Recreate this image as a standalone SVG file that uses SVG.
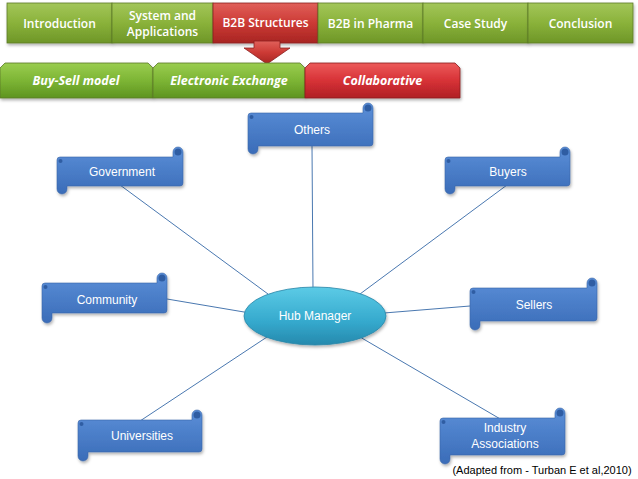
<svg xmlns="http://www.w3.org/2000/svg" width="638" height="479" viewBox="0 0 638 479">
<defs>
<linearGradient id="gTab" x1="0" y1="0" x2="0" y2="1">
<stop offset="0" stop-color="#a3c65a"/><stop offset="0.5" stop-color="#8ab23a"/><stop offset="1" stop-color="#6e9628"/>
</linearGradient>
<linearGradient id="rTab" x1="0" y1="0" x2="0" y2="1">
<stop offset="0" stop-color="#e0605a"/><stop offset="0.5" stop-color="#cc3a35"/><stop offset="1" stop-color="#a82522"/>
</linearGradient>
<linearGradient id="gTab2" x1="0" y1="0" x2="0" y2="1">
<stop offset="0" stop-color="#9acd4f"/><stop offset="0.5" stop-color="#7db535"/><stop offset="1" stop-color="#5e9420"/>
</linearGradient>
<linearGradient id="rTab2" x1="0" y1="0" x2="0" y2="1">
<stop offset="0" stop-color="#ec5a5a"/><stop offset="0.5" stop-color="#d73237"/><stop offset="1" stop-color="#b01f24"/>
</linearGradient>
<linearGradient id="scroll" x1="0" y1="0" x2="0" y2="1">
<stop offset="0" stop-color="#5b8fd8"/><stop offset="1" stop-color="#3a6cb8"/>
</linearGradient>
<linearGradient id="hub" x1="0" y1="0" x2="0" y2="1">
<stop offset="0" stop-color="#5ccbe6"/><stop offset="0.6" stop-color="#35a9cd"/><stop offset="1" stop-color="#2589ad"/>
</linearGradient>
<filter id="sh" x="-10%" y="-20%" width="130%" height="150%">
<feDropShadow dx="1" dy="2" stdDeviation="1.5" flood-color="#000" flood-opacity="0.3"/>
</filter>
</defs>
<style>
.tab{stroke:#5c7a2a;stroke-width:0.8;filter:url(#sh)}
.tabr{stroke:#8a2020;stroke-width:0.8;filter:url(#sh)}
.tt{font-family:"Open Sans","Liberation Sans",sans-serif;font-size:12px;fill:#fff;text-anchor:middle;font-weight:600}
.t2{font-family:"Open Sans","Liberation Sans",sans-serif;font-size:12.5px;fill:#fff;text-anchor:middle;font-weight:700;font-style:italic}
.sc{fill:url(#scroll);stroke:#3a66a8;stroke-width:0.6;filter:url(#sh)}
.curl{fill:#2f5da3}
.st{font-family:"Liberation Sans","Noto Sans",sans-serif;font-size:12px;fill:#fff;text-anchor:middle}
.con{stroke:#4a78b0;stroke-width:1;fill:none}
</style>

<g id="top-tabs">
<rect class="tab" x="7" y="3" width="105" height="40" fill="url(#gTab)"/>
<text class="tt" x="59.5" y="27.5">Introduction</text>
<rect class="tab" x="112" y="3" width="101" height="40" fill="url(#gTab)"/>
<text class="tt" x="162.5" y="20">System and</text>
<text class="tt" x="162.5" y="36">Applications</text>
<rect class="tabr" x="213" y="3" width="105" height="40" fill="url(#rTab)"/>
<text class="tt" x="265.5" y="27">B2B Structures</text>
<rect class="tab" x="318" y="3" width="105" height="40" fill="url(#gTab)"/>
<text class="tt" x="370.5" y="27.5">B2B in Pharma</text>
<rect class="tab" x="423" y="3" width="105" height="40" fill="url(#gTab)"/>
<text class="tt" x="475.5" y="27.5">Case Study</text>
<rect class="tab" x="528" y="3" width="105" height="40" fill="url(#gTab)"/>
<text class="tt" x="580.5" y="27.5">Conclusion</text>
</g>

<g id="down-arrow">
<path d="M254 41 H280 V48 H290 L267 64 L244 48 H254 Z" fill="url(#rTab)" stroke="#8a2020" stroke-width="0.8"/>
</g>

<g id="sub-tabs">
<path class="tab" d="M0 68 L5 63 H148 L153 68 V98 H0 Z" fill="url(#gTab2)"/>
<text class="t2" x="76" y="85">Buy-Sell model</text>
<path class="tab" d="M153 68 L158 63 H300 L305 68 V98 H153 Z" fill="url(#gTab2)"/>
<text class="t2" x="229" y="85">Electronic Exchange</text>
<path class="tabr" d="M305 68 L310 63 H455 L460 68 V98 H305 Z" fill="url(#rTab2)"/>
<text class="t2" x="382.5" y="85">Collaborative</text>
</g>

<g id="connectors">
<line class="con" x1="312" y1="146" x2="313" y2="290"/>
<line class="con" x1="120" y1="185" x2="268" y2="294"/>
<line class="con" x1="507" y1="185" x2="360" y2="294"/>
<line class="con" x1="167" y1="299" x2="250" y2="313"/>
<line class="con" x1="470" y1="306" x2="384" y2="313"/>
<line class="con" x1="140" y1="421" x2="267" y2="337"/>
<line class="con" x1="502" y1="420" x2="360" y2="337"/>
</g>

<g id="hub-manager">
<ellipse cx="315" cy="316" rx="71" ry="29" fill="url(#hub)" stroke="#2a86a8" stroke-width="0.8" filter="url(#sh)"/>
<text class="st" x="315" y="320">Hub Manager</text>
</g>

<g id="others">
<path class="sc" d="M248 116 Q248 113 251 113 H363 V108 A5 5 0 0 1 373 108 V143 Q373 146 370 146 H258 V149 A5 5 0 0 1 248 149 Z"/>
<circle class="curl" cx="368" cy="108" r="3.5"/>
<circle class="curl" cx="251.5" cy="117" r="2"/>
<text class="st" x="312" y="134">Others</text>
</g>

<g id="government">
<path class="sc" d="M57 160 Q57 157 60 157 H173 V152 A5 5 0 0 1 183 152 V183 Q183 186 180 186 H67 V189 A5 5 0 0 1 57 189 Z"/>
<circle class="curl" cx="178" cy="152" r="3.5"/>
<circle class="curl" cx="60.5" cy="161" r="2"/>
<text class="st" x="122" y="176">Government</text>
</g>

<g id="buyers">
<path class="sc" d="M445 160 Q445 157 448 157 H560 V152 A5 5 0 0 1 570 152 V183 Q570 186 567 186 H455 V189 A5 5 0 0 1 445 189 Z"/>
<circle class="curl" cx="565" cy="152" r="3.5"/>
<circle class="curl" cx="448.5" cy="161" r="2"/>
<text class="st" x="508" y="176">Buyers</text>
</g>

<g id="community">
<path class="sc" d="M42 286 Q42 283 45 283 H157 V278 A5 5 0 0 1 167 278 V310 Q167 313 164 313 H52 V318 A5 5 0 0 1 42 318 Z"/>
<circle class="curl" cx="162" cy="278" r="3.5"/>
<circle class="curl" cx="45.5" cy="287" r="2"/>
<text class="st" x="107" y="304">Community</text>
</g>

<g id="sellers">
<path class="sc" d="M470 291 Q470 288 473 288 H587 V283 A5 5 0 0 1 597 283 V318 Q597 321 594 321 H480 V325 A5 5 0 0 1 470 325 Z"/>
<circle class="curl" cx="592" cy="283" r="3.5"/>
<circle class="curl" cx="473.5" cy="292" r="2"/>
<text class="st" x="534" y="309">Sellers</text>
</g>

<g id="universities">
<path class="sc" d="M78 423 Q78 420 81 420 H192 V415 A5 5 0 0 1 202 415 V449 Q202 452 199 452 H88 V456 A5 5 0 0 1 78 456 Z"/>
<circle class="curl" cx="197" cy="415" r="3.5"/>
<circle class="curl" cx="81.5" cy="424" r="2"/>
<text class="st" x="142" y="440">Universities</text>
</g>

<g id="industry-associations">
<path class="sc" d="M440 421 Q440 418 443 418 H555 V413 A5 5 0 0 1 565 413 V452 Q565 455 562 455 H450 V459 A5 5 0 0 1 440 459 Z"/>
<circle class="curl" cx="560" cy="413" r="3.5"/>
<circle class="curl" cx="443.5" cy="422" r="2"/>
<text class="st" x="505" y="432">Industry</text>
<text class="st" x="505" y="448">Associations</text>
</g>

<g id="caption">
<text x="542" y="474" font-family="'Liberation Sans','Noto Sans',sans-serif" font-size="11" fill="#000" text-anchor="middle">(Adapted from - Turban E et al,2010)</text>
</g>
</svg>
